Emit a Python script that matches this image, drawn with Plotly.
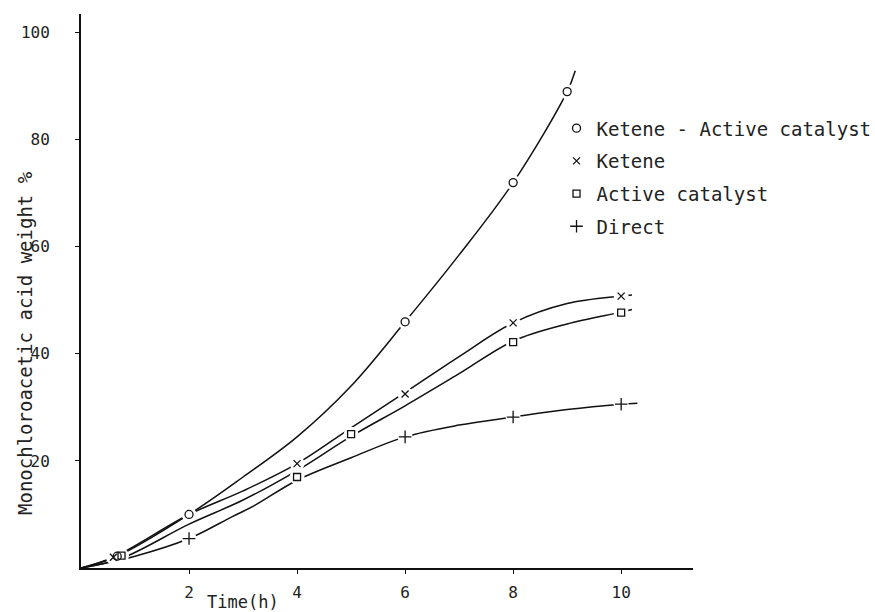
import plotly.graph_objects as go

# Measured points: reaction time (h) vs monochloroacetic acid weight %
ka_t = [0.67, 2, 6, 8, 9]
ka_y = [2.2, 10, 46, 72, 89]
k_t = [0.6, 4, 6, 8, 10]
k_y = [2.0, 19.5, 32.5, 45.8, 50.8]
ac_t = [0.75, 4, 5, 8, 10]
ac_y = [2.3, 17, 25, 42.2, 47.7]
d_t = [2, 6, 8, 10]
d_y = [5.5, 24.5, 28.2, 30.6]

# Hand-fitted trend curves through each series
ka_curve_t = [0, 0.67, 2, 3, 4, 5, 6, 7, 8, 9, 9.15]
ka_curve_y = [0, 2.2, 10, 17, 24.5, 34, 46, 58.5, 72, 89, 92.9]
k_curve_t = [0, 0.6, 2, 3, 4, 5, 6, 7, 8, 9, 10, 10.2]
k_curve_y = [0, 2.0, 10, 14.4, 19.5, 26.2, 32.8, 39.5, 45.8, 49.4, 50.8, 51.0]
ac_curve_t = [0, 0.75, 2, 3, 4, 5, 6, 7, 8, 9, 10, 10.2]
ac_curve_y = [0, 1.8, 8.2, 12.7, 18.2, 24.6, 30.3, 36.3, 42.4, 45.6, 47.8, 48.3]
d_curve_t = [0, 1, 2, 2.8, 3.2, 4, 5, 6, 7, 8, 9, 10, 10.3]
d_curve_y = [0, 2.2, 5.5, 9.6, 11.6, 16.4, 20.6, 24.5, 26.7, 28.2, 29.6, 30.6, 30.8]

x_ticks = [2, 4, 6, 8, 10]
y_ticks = [20, 40, 60, 80, 100]

series = [
    ("Ketene - Active catalyst", ka_t, ka_y, ka_curve_t, ka_curve_y, "circle-open", 8),
    ("Ketene", k_t, k_y, k_curve_t, k_curve_y, "x-thin", 7),
    ("Active catalyst", ac_t, ac_y, ac_curve_t, ac_curve_y, "square-open", 7),
    ("Direct", d_t, d_y, d_curve_t, d_curve_y, "cross-thin", 9),
]

INK = "#111111"
MONO = "DejaVu Sans Mono"

fig = go.Figure()

# trend curves
for name, t, y, ct, cy, sym, sz in series:
    fig.add_trace(go.Scatter(
        x=ct, y=cy, mode="lines", line=dict(color=INK, width=1.5, shape="spline"),
        showlegend=False, hoverinfo="skip"))

# white halos so the curves break around each marker
for name, t, y, ct, cy, sym, sz in series:
    fig.add_trace(go.Scatter(
        x=t, y=y, mode="markers",
        marker=dict(symbol="circle", size=15, color="white", line=dict(width=0)),
        showlegend=False, hoverinfo="skip"))

# markers
for i, (name, t, y, ct, cy, sym, sz) in enumerate(series):
    fig.add_trace(go.Scatter(
        x=t, y=y, mode="markers", name=name, legendgroup=f"g{i}",
        marker=dict(symbol=sym, size=sz, color=INK, line=dict(color=INK, width=1.3))))

fig.update_layout(
    width=875, height=612,
    margin=dict(l=81, r=182, t=14, b=44, autoexpand=False),
    paper_bgcolor="white", plot_bgcolor="white",
    font=dict(family=MONO, color=INK),
    showlegend=True,
    legend=dict(
        x=0.777, y=0.828, xanchor="left", yanchor="top",
        font=dict(family=MONO, size=19, color="#222222"),
        tracegroupgap=5, itemwidth=30, bgcolor="rgba(0,0,0,0)",
    ),
    xaxis=dict(
        range=[0, 11.33], tickvals=x_ticks, ticktext=[str(v) for v in x_ticks],
        showgrid=False, zeroline=False, showline=True, linecolor=INK, linewidth=1.5,
        ticks="outside", ticklen=4, tickcolor=INK, tickwidth=1,
        tickfont=dict(family=MONO, size=16, color="#222222"),
        ticklabelstandoff=5,
    ),
    yaxis=dict(
        range=[0, 103.5], tickvals=y_ticks, ticktext=[str(v) for v in y_ticks],
        showgrid=False, zeroline=False, showline=True, linecolor=INK, linewidth=2,
        ticks="outside", ticklen=4, tickcolor=INK, tickwidth=1,
        tickfont=dict(family=MONO, size=16, color="#222222"),
        ticklabelstandoff=22,
    ),
    annotations=[
        dict(text="Monochloroacetic acid weight %", textangle=-90,
             xref="paper", yref="paper", x=(25 - 81) / 612, y=(568 - 343) / 554,
             xanchor="center", yanchor="middle", showarrow=False,
             font=dict(family=MONO, size=19, color="#222222")),
        dict(text="Time(h)", xref="paper", yref="paper",
             x=(243 - 81) / 612, y=(568 - 602) / 554,
             xanchor="center", yanchor="middle", showarrow=False,
             font=dict(family=MONO, size=17, color="#222222")),
    ],
)

fig.write_html("out.html")
